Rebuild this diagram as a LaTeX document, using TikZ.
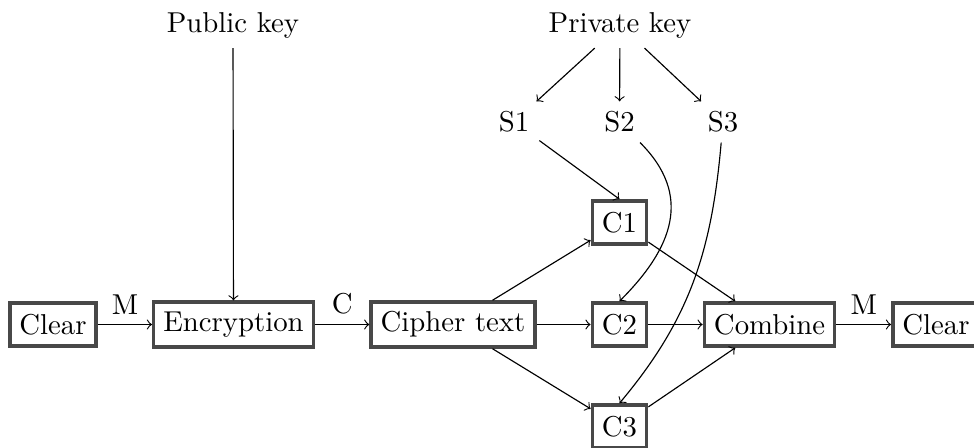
\documentclass[tikz,border=0pt]{standalone}
\definecolor{boxgray}{RGB}{72,72,72}
\begin{document}
\begin{tikzpicture}[x=0.3478pt,y=-0.3478pt,
  box/.style={draw=boxgray, line width=1.2pt, minimum height=15pt, inner sep=3.333pt},
  txt/.style={inner sep=3.333pt},
  every path/.style={line width=0.4pt}]
\useasboundingbox (0,0) rectangle (974,448);
% nodes
\node[box] (clear1) at (53,324.5) {Clear};
\node[box] (enc) at (233.5,324.5) {Encryption};
\node[box] (cipher) at (453,324.5) {Cipher text};
\node[box] (c1) at (619.5,222.5) {C1};
\node[box] (c2) at (619.5,324.5) {C2};
\node[box] (c3) at (619.5,426.5) {C3};
\node[box] (comb) at (769.5,324.5) {Combine};
\node[box] (clear2) at (936,324.5) {Clear};
\node[txt] (pub) at (233,25) {Public key};
\node[txt] (priv) at (620,25) {Private key};
\node[txt] (s1) at (514,122) {S1};
\node[txt] (s2) at (619.5,122) {S2};
\node[txt] (s3) at (723,122) {S3};
% connectors
\draw[->] (clear1) -- node[above] {M} (enc);
\draw[->] (enc) -- node[above] {C} (cipher);
\draw[->] (pub) -- (enc);
\draw[->] (cipher) -- (c1);
\draw[->] (cipher) -- (c2);
\draw[->] (cipher) -- (c3);
\draw[->] (c1) -- (comb);
\draw[->] (c2) -- (comb);
\draw[->] (c3) -- (comb);
\draw[->] (comb) -- node[above] {M} (clear2);
\draw[->] (priv) -- (s1);
\draw[->] (priv) -- (s2);
\draw[->] (priv) -- (s3);
\draw[->] (s1) -- (c1.north);
\draw[->] (s2) to[out=-45,in=45,looseness=1.2] (c2.north);
\draw[->] (s3) to[out=-95,in=50] (c3.north);
\end{tikzpicture}
\end{document}
